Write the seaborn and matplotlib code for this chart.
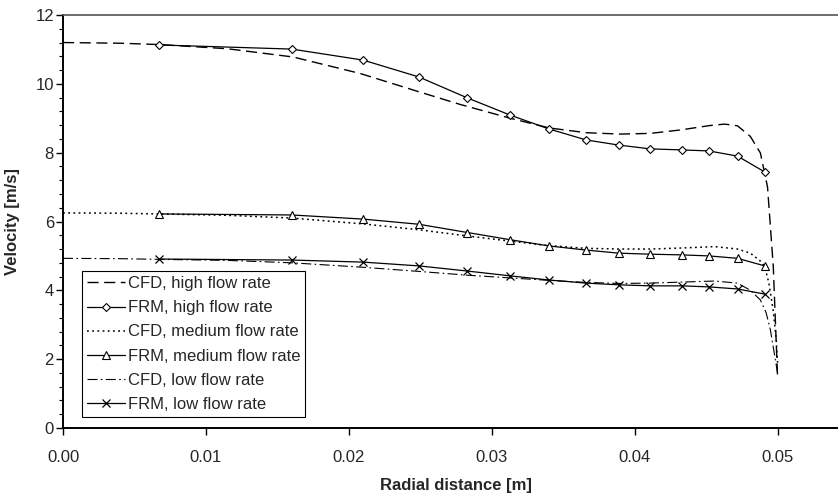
import matplotlib
matplotlib.use("Agg")
import matplotlib.pyplot as plt
from matplotlib.ticker import MultipleLocator, FormatStrFormatter
import numpy as np
import pandas as pd
import seaborn as sns

# ---- CFD velocity profiles (continuous curves) ----
cfd_r = [0.0, 0.004, 0.0068, 0.0115, 0.0161, 0.0208, 0.0249, 0.0278, 0.0313,
         0.0340, 0.0366, 0.0390, 0.0411, 0.0432, 0.0453, 0.0463, 0.0472,
         0.0481, 0.0488, 0.0493, 0.0497, 0.0500]
cfd_high = [11.20, 11.18, 11.14, 11.02, 10.78, 10.30, 9.77, 9.40, 9.00,
            8.72, 8.58, 8.54, 8.56, 8.66, 8.79, 8.83, 8.78,
            8.47, 7.99, 7.00, 4.70, 1.50]

cfd_r_med = [0.0, 0.004, 0.0067, 0.0115, 0.016, 0.021, 0.0249, 0.0283, 0.0313,
             0.034, 0.0366, 0.039, 0.0411, 0.0433, 0.0456, 0.0472, 0.0481,
             0.0488, 0.0491, 0.0494, 0.0497, 0.0499, 0.0500]
cfd_med = [6.25, 6.24, 6.22, 6.18, 6.10, 5.93, 5.76, 5.58, 5.43,
           5.30, 5.22, 5.20, 5.20, 5.23, 5.27, 5.20, 5.08,
           4.85, 4.70, 4.20, 3.40, 2.60, 1.90]

cfd_r_low = [0.0, 0.004, 0.0067, 0.0115, 0.016, 0.021, 0.0249, 0.0283, 0.0313,
             0.034, 0.0366, 0.039, 0.0411, 0.0433, 0.0456, 0.0472, 0.0481,
             0.0488, 0.0492, 0.0495, 0.0498, 0.0500]
cfd_low = [4.93, 4.92, 4.90, 4.87, 4.80, 4.67, 4.55, 4.44, 4.36,
           4.29, 4.23, 4.20, 4.21, 4.24, 4.27, 4.21, 4.00,
           3.72, 3.35, 2.85, 2.10, 1.60]

# ---- FRM model results (discrete points) ----
frm_r = [0.0067, 0.0160, 0.0210, 0.0249, 0.0283, 0.0313, 0.0340, 0.0366,
         0.0389, 0.0411, 0.0433, 0.0452, 0.0472, 0.0491]
frm_high = [11.13, 11.01, 10.69, 10.20, 9.59, 9.09, 8.69, 8.37,
            8.22, 8.11, 8.08, 8.05, 7.90, 7.44]
frm_med = [6.22, 6.19, 6.07, 5.92, 5.68, 5.47, 5.29, 5.17,
           5.08, 5.05, 5.03, 5.00, 4.93, 4.71]
frm_low = [4.91, 4.88, 4.82, 4.71, 4.56, 4.42, 4.30, 4.21,
           4.16, 4.13, 4.13, 4.10, 4.04, 3.89]

x_ticks = [0.00, 0.01, 0.02, 0.03, 0.04, 0.05]
y_ticks = [0, 2, 4, 6, 8, 10, 12]

sns.set_theme(style="ticks")
plt.rcParams["font.family"] = ["Liberation Sans", "DejaVu Sans"]
plt.rcParams["font.size"] = 12

fig = plt.figure(figsize=(8.38, 4.96), dpi=100)
ax = fig.add_axes([63 / 838, 68 / 496, 786 / 838, 413 / 496])

line_kw = dict(color="black", ax=ax, sort=False, estimator=None)

sns.lineplot(x=cfd_r, y=cfd_high, label="CFD, high flow rate",
             linewidth=1.0, linestyle=(0, (8, 4)), **line_kw)
sns.lineplot(x=frm_r, y=frm_high, label="FRM, high flow rate",
             linewidth=0.9, marker="D", markersize=4, markerfacecolor="white",
             markeredgecolor="black", markeredgewidth=0.8, **line_kw)
sns.lineplot(x=cfd_r_med, y=cfd_med, label="CFD, medium flow rate",
             linewidth=1.1, linestyle=(0, (1.2, 2.2)), **line_kw)
sns.lineplot(x=frm_r, y=frm_med, label="FRM, medium flow rate",
             linewidth=0.9, marker="^", markersize=6, markerfacecolor="white",
             markeredgecolor="black", markeredgewidth=0.8, **line_kw)
sns.lineplot(x=cfd_r_low, y=cfd_low, label="CFD, low flow rate",
             linewidth=0.8, linestyle=(0, (9, 3, 1.5, 3)), **line_kw)
sns.lineplot(x=frm_r, y=frm_low, label="FRM, low flow rate",
             linewidth=0.9, marker="x", markersize=6,
             markeredgecolor="black", markeredgewidth=0.9, **line_kw)

ax.set_xlim(0, 0.055)
ax.set_ylim(0, 12)
ax.set_xticks(x_ticks)
ax.xaxis.set_major_formatter(FormatStrFormatter("%.2f"))
ax.set_yticks(y_ticks)
ax.yaxis.set_minor_locator(MultipleLocator(0.4))

ax.tick_params(axis="both", which="major", direction="out", length=5,
               width=1.0, color="black", labelsize=12)
ax.tick_params(axis="x", which="major", pad=11)
ax.tick_params(axis="y", which="major", pad=1.5)
ax.tick_params(axis="y", which="minor", direction="out", length=3,
               width=0.8, color="black")
ax.tick_params(axis="x", which="minor", length=0)

ax.set_xlabel("Radial distance [m]", fontsize=12, fontweight="bold", labelpad=9)
ax.set_ylabel("Velocity [m/s]", fontsize=12, fontweight="bold", labelpad=11)

for side in ("left", "bottom"):
    ax.spines[side].set_color("black")
    ax.spines[side].set_linewidth(1.4)
ax.spines["top"].set_color("#555555")
ax.spines["top"].set_linewidth(1.2)
ax.spines["right"].set_visible(False)
ax.grid(False)

leg = ax.legend(loc="lower left", bbox_to_anchor=(19 / 786, 11 / 413),
                borderaxespad=0, fontsize=12, frameon=True, fancybox=False,
                framealpha=1, edgecolor="black", handlelength=2.3,
                handletextpad=0.15, labelspacing=0.55, borderpad=0.3)
leg.get_frame().set_linewidth(0.8)

fig.savefig("out.png", dpi=100)
